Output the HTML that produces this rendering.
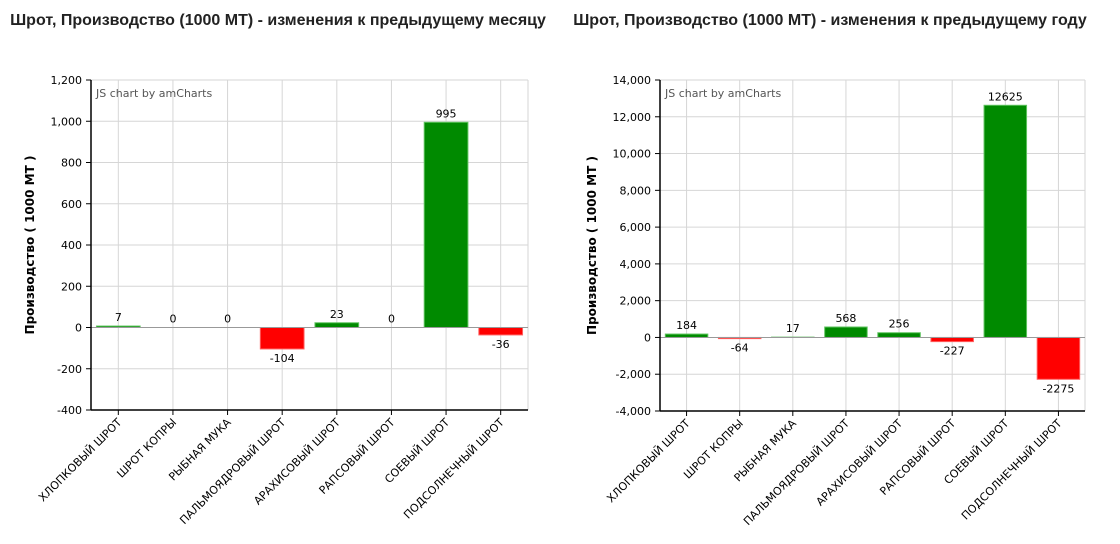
<!DOCTYPE html>
<html><head><meta charset="utf-8"><style>
html,body{margin:0;padding:0;background:#fff;width:1120px;height:544px;overflow:hidden}
svg{display:block}
</style></head><body>
<svg id="s" width="1120" height="544" xmlns="http://www.w3.org/2000/svg" font-family="'DejaVu Sans','Liberation Sans',sans-serif"></svg>
<script>
var cats=["ХЛОПКОВЫЙ ШРОТ","ШРОТ КОПРЫ","РЫБНАЯ МУКА","ПАЛЬМОЯДРОВЫЙ ШРОТ","АРАХИСОВЫЙ ШРОТ","РАПСОВЫЙ ШРОТ","СОЕВЫЙ ШРОТ","ПОДСОЛНЕЧНЫЙ ШРОТ"];
var out="";
function chart(o){
 var x0=o.x0,x1=o.x1,yt=o.yt,yb=o.yb,w=(x1-x0)/8;
 function Y(v){return yb-(v-o.min)/(o.max-o.min)*(yb-yt);}
 out+='<text x="'+o.tx+'" y="25" text-anchor="middle" font-family="Liberation Sans,sans-serif" font-weight="bold" font-size="16" fill="#222">'+o.title+'</text>';
 for(var v=o.min;v<=o.max;v+=o.step){var y=Y(v);
  out+='<line x1="'+x0+'" x2="'+x1+'" y1="'+y+'" y2="'+y+'" stroke="#d6d6d6"/>';
  out+='<line x1="'+(x0-5)+'" x2="'+x0+'" y1="'+y+'" y2="'+y+'" stroke="#000"/>';
  out+='<text x="'+(x0-9)+'" y="'+(y+4)+'" text-anchor="end" font-size="11" fill="#000">'+v.toLocaleString("en-US")+'</text>';}
 out+='<line x1="'+x1+'" x2="'+x1+'" y1="'+yt+'" y2="'+yb+'" stroke="#d6d6d6"/>';
 for(var i=0;i<8;i++){var cx=x0+w*(i+0.5);
  out+='<line x1="'+cx+'" x2="'+cx+'" y1="'+yt+'" y2="'+yb+'" stroke="#d6d6d6"/>';
  out+='<line x1="'+cx+'" x2="'+cx+'" y1="'+yb+'" y2="'+(yb+5)+'" stroke="#000"/>';
  out+='<text transform="translate('+(cx+4)+','+(yb+13)+') rotate(-45)" text-anchor="end" font-size="11" fill="#000">'+cats[i]+'</text>';
  var v=o.d[i],y0=Y(0),y=Y(v),bw=w*0.8,bx=cx-bw/2;
  var col=v>=0?"#008a00":"#ff0000",st=v>=0?"#5fc35f":"#ff6060";
  var top=Math.min(y,y0),h=Math.abs(y-y0);
  if(h>0.3) out+='<rect x="'+bx+'" y="'+top+'" width="'+bw+'" height="'+h+'" fill="'+col+'" stroke="'+st+'" stroke-width="1"/>';
  var ly=v>=0?top-5:top+h+13;
  out+='<text x="'+cx+'" y="'+ly+'" text-anchor="middle" font-size="11" fill="#000">'+v+'</text>';}
 out+='<line x1="'+x0+'" x2="'+x1+'" y1="'+Y(0)+'" y2="'+Y(0)+'" stroke="#999"/>';
 out+='<line x1="'+x0+'" x2="'+x0+'" y1="'+yt+'" y2="'+yb+'" stroke="#000" stroke-width="1.5"/>';
 out+='<line x1="'+x0+'" x2="'+x1+'" y1="'+yb+'" y2="'+yb+'" stroke="#000" stroke-width="1.5"/>';
 out+='<text x="'+(x0+5)+'" y="'+(yt+17)+'" font-size="11" fill="#555">JS chart by amCharts</text>';
 var my=(yt+yb)/2;
 out+='<text transform="translate('+o.ax+','+my+') rotate(-90)" text-anchor="middle" font-size="12" font-weight="bold" fill="#000">Производство ( 1000 МТ )</text>';
}
chart({x0:91,x1:528,yt:80,yb:410,min:-400,max:1200,step:200,tx:278,ax:34,title:"Шрот, Производство (1000 МТ) - изменения к предыдущему месяцу",d:[7,0,0,-104,23,0,995,-36]});
chart({x0:660,x1:1085,yt:80,yb:411,min:-4000,max:14000,step:2000,tx:830,ax:596,title:"Шрот, Производство (1000 МТ) - изменения к предыдущему году",d:[184,-64,17,568,256,-227,12625,-2275]});
document.getElementById("s").innerHTML=out;
</script>
</body></html>
